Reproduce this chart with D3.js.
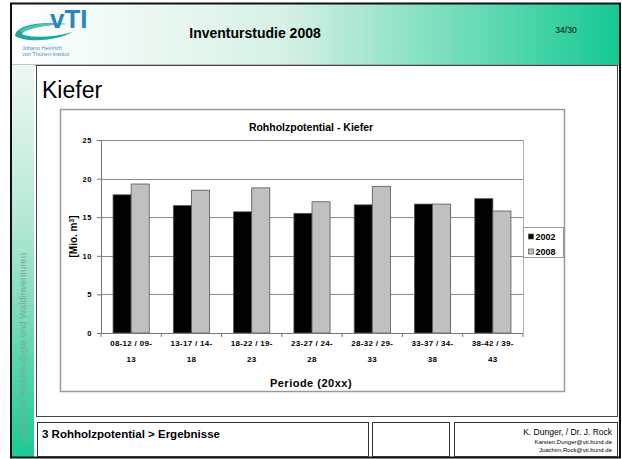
<!DOCTYPE html>
<html>
<head>
<meta charset="utf-8">
<script src="https://cdn.jsdelivr.net/npm/d3@7"></script>
<style>
  body { margin: 0; background: #fff; }
  text { font-family: "Liberation Sans", Arial, sans-serif; }
</style>
</head>
<body>
<div id="slide"></div>
<script>
// chart data
var categories = ["08-12 / 09-13", "13-17 / 14-18", "18-22 / 19-23", "23-27 / 24-28",
                  "28-32 / 29-33", "33-37 / 34-38", "38-42 / 39-43"];
var catLines = [["08-12 / 09-", "13"], ["13-17 / 14-", "18"], ["18-22 / 19-", "23"],
                ["23-27 / 24-", "28"], ["28-32 / 29-", "33"], ["33-37 / 34-", "38"],
                ["38-42 / 39-", "43"]];
var series = ["2002", "2008"];
var values2002 = [17.9, 16.5, 15.7, 15.5, 16.6, 16.7, 17.4];
var values2008 = [19.3, 18.5, 18.8, 17.0, 19.0, 16.7, 15.8];
var yTicks = [0, 5, 10, 15, 20, 25];

// slide settings
var width = 622;
var height = 459;
var bar_colors = {"2002": "#000000", "2008": "#c0c0c0"};
var grid_color = "#8a8a8a";

var svg = d3.select("#slide").append("svg")
    .attr("width", width)
    .attr("height", height);

var defs = svg.append("defs");
var hg = defs.append("linearGradient").attr("id", "headGrad")
    .attr("x1", 0).attr("x2", 1).attr("y1", 0).attr("y2", 0);
hg.append("stop").attr("offset", "0").attr("stop-color", "#ffffff");
hg.append("stop").attr("offset", "0.45").attr("stop-color", "#d6f1e5");
hg.append("stop").attr("offset", "1").attr("stop-color", "#14c994");

var sg = defs.append("linearGradient").attr("id", "sideGrad")
    .attr("x1", 0).attr("x2", 0).attr("y1", 0).attr("y2", 1);
sg.append("stop").attr("offset", "0").attr("stop-color", "#eef8f3");
sg.append("stop").attr("offset", "0.4").attr("stop-color", "#b5e8d3");
sg.append("stop").attr("offset", "1").attr("stop-color", "#1cc995");

// header band
svg.append("rect").attr("x", 11).attr("y", 4).attr("width", 609).attr("height", 61)
    .attr("fill", "url(#headGrad)");
svg.append("line").attr("x1", 11).attr("x2", 620).attr("y1", 65).attr("y2", 65)
    .attr("stroke", "#888").attr("stroke-width", 1);

// left side strip
svg.append("rect").attr("x", 11).attr("y", 65).attr("width", 23).attr("height", 392)
    .attr("fill", "url(#sideGrad)");
svg.append("text")
    .attr("transform", "translate(26,347) rotate(-90)")
    .attr("text-anchor", "middle")
    .attr("font-size", 9.5)
    .attr("fill", "#7fa898")
    .text("Institut für Waldökologie und Waldinventuren");

// outer frame
svg.append("rect").attr("x", 11).attr("y", 3.5).attr("width", 609).attr("height", 454)
    .attr("fill", "none").attr("stroke", "#111").attr("stroke-width", 2);

// logo
var logo = svg.append("g");
logo.append("path")
    .attr("d", "M15,36 C16,25 40,21 68,24 C44,25 24,29 22,34 C30,38 52,38 72,32 C58,41 26,43 15,36 Z")
    .attr("fill", "#1aa996");
logo.append("path")
    .attr("d", "M19,31 C28,24 50,22 64,24 C46,25 32,27 23,32 Z")
    .attr("fill", "#45c7b3");
logo.append("text").attr("x", 50).attr("y", 28)
    .attr("font-size", 26).attr("font-weight", "bold")
    .attr("fill", "#2a86c2").text("vTI");
logo.append("text").attr("x", 22).attr("y", 50)
    .attr("font-size", 5.5).attr("fill", "#4a8fb8").text("Johann Heinrich");
logo.append("text").attr("x", 22).attr("y", 56)
    .attr("font-size", 5.5).attr("fill", "#4a8fb8").text("von Thünen-Institut");

// header texts
svg.append("text").attr("x", 255).attr("y", 38)
    .attr("text-anchor", "middle")
    .attr("font-size", 14).attr("font-weight", "bold")
    .text("Inventurstudie 2008");
svg.append("text").attr("x", 566).attr("y", 33)
    .attr("text-anchor", "middle")
    .attr("font-size", 8.5)
    .text("34/30");

// content box
svg.append("rect").attr("x", 36.5).attr("y", 65.5).attr("width", 581).attr("height", 351)
    .attr("fill", "#fff").attr("stroke", "#444").attr("stroke-width", 1);
svg.append("text").attr("x", 42).attr("y", 98)
    .attr("font-size", 23).text("Kiefer");

// footer boxes
var footBoxes = [[37, 331], [372, 77], [454, 163]];
footBoxes.forEach(function(b) {
    svg.append("rect").attr("x", b[0] + 0.5).attr("y", 422.5)
        .attr("width", b[1]).attr("height", 34)
        .attr("fill", "#fff").attr("stroke", "#333").attr("stroke-width", 1);
});
svg.append("text").attr("x", 42).attr("y", 438)
    .attr("font-size", 11.5).attr("font-weight", "bold")
    .text("3 Rohholzpotential > Ergebnisse");
svg.append("text").attr("x", 612).attr("y", 435).attr("text-anchor", "end")
    .attr("font-size", 8.5).text("K. Dunger, / Dr. J. Rock");
svg.append("text").attr("x", 612).attr("y", 444).attr("text-anchor", "end")
    .attr("font-size", 6).text("Karsten.Dunger@vti.bund.de");
svg.append("text").attr("x", 612).attr("y", 452).attr("text-anchor", "end")
    .attr("font-size", 6).text("Joachim.Rock@vti.bund.de");

// chart area
svg.append("rect").attr("x", 60.5).attr("y", 109.5).attr("width", 504).attr("height", 282)
    .attr("fill", "#fff").attr("stroke", "#9a9a9a").attr("stroke-width", 1.5);

svg.append("text").attr("x", 311).attr("y", 131)
    .attr("text-anchor", "middle")
    .attr("font-size", 10.5).attr("font-weight", "bold")
    .text("Rohholzpotential - Kiefer");

var plot = {left: 101, right: 523, top: 140, bottom: 333};

var y = d3.scaleLinear().domain([0, 25]).range([plot.bottom, plot.top]);
var x0 = d3.scaleBand().domain(categories).range([plot.left, plot.right])
    .paddingInner(0.4).paddingOuter(0.2);
var x1 = d3.scaleBand().domain(series).range([0, x0.bandwidth()]);

// gridlines
svg.append("g").selectAll("line")
    .data(yTicks.slice(1))
    .enter().append("line")
    .attr("x1", plot.left).attr("x2", plot.right)
    .attr("y1", function(d) { return Math.round(y(d)) + 0.5; })
    .attr("y2", function(d) { return Math.round(y(d)) + 0.5; })
    .attr("stroke", grid_color).attr("stroke-width", 1);
svg.append("line").attr("x1", plot.right + 0.5).attr("x2", plot.right + 0.5)
    .attr("y1", plot.top).attr("y2", plot.bottom)
    .attr("stroke", "#b0b0b0");

// bars
var rows = categories.map(function(c, i) {
    return {cat: c, vals: [{s: "2002", v: values2002[i]}, {s: "2008", v: values2008[i]}]};
});
svg.append("g").selectAll("g")
    .data(rows)
    .enter().append("g")
    .attr("transform", function(d) { return "translate(" + x0(d.cat) + ",0)"; })
    .selectAll("rect")
    .data(function(d) { return d.vals; })
    .enter().append("rect")
    .attr("x", function(d) { return x1(d.s); })
    .attr("y", function(d) { return y(d.v); })
    .attr("width", x1.bandwidth())
    .attr("height", function(d) { return y(0) - y(d.v); })
    .attr("fill", function(d) { return bar_colors[d.s]; })
    .attr("stroke", "#555").attr("stroke-width", 0.8);

// y axis
var yAxis = svg.append("g")
    .attr("transform", "translate(" + plot.left + ",0)")
    .call(d3.axisLeft(y).tickValues(yTicks).tickSize(4).tickPadding(5));
yAxis.select(".domain").attr("stroke", "#777");
yAxis.selectAll(".tick line").attr("stroke", "#777");
yAxis.selectAll("text").attr("font-size", 7.5).attr("font-weight", "bold")
    .attr("letter-spacing", 0.6)
    .attr("font-family", "Liberation Sans, Arial, sans-serif").attr("fill", "#000");

// x axis
svg.append("line").attr("x1", plot.left).attr("x2", plot.right)
    .attr("y1", plot.bottom + 0.5).attr("y2", plot.bottom + 0.5)
    .attr("stroke", "#777");
var step = x0.step();
svg.append("g").selectAll("line")
    .data(d3.range(categories.length + 1))
    .enter().append("line")
    .attr("x1", function(i) { return plot.left + i * step; })
    .attr("x2", function(i) { return plot.left + i * step; })
    .attr("y1", plot.bottom).attr("y2", plot.bottom + 4)
    .attr("stroke", "#777");

var xl = svg.append("g").selectAll("text")
    .data(categories)
    .enter().append("text")
    .attr("text-anchor", "middle")
    .attr("font-size", 8).attr("font-weight", "bold")
    .attr("letter-spacing", 0.3).attr("fill", "#000");
xl.each(function(c, i) {
    var t = d3.select(this);
    var cx = x0(c) + x0.bandwidth() / 2;
    catLines[i].forEach(function(line, j) {
        t.append("tspan").attr("x", cx).attr("y", 346 + j * 16).text(line);
    });
});

// axis titles
svg.append("text").attr("x", 311).attr("y", 387)
    .attr("text-anchor", "middle")
    .attr("font-size", 11).attr("font-weight", "bold")
    .attr("letter-spacing", 0.5)
    .text("Periode (20xx)");
var ylab = svg.append("text")
    .attr("transform", "translate(77," + ((plot.top + plot.bottom) / 2) + ") rotate(-90)")
    .attr("text-anchor", "middle")
    .attr("font-size", 10).attr("font-weight", "bold");
ylab.append("tspan").text("[Mio. m");
ylab.append("tspan").attr("font-size", 6.5).attr("dy", -3.5).text("3");
ylab.append("tspan").attr("dy", 3.5).text("]");

// legend
var legend = svg.append("g").attr("transform", "translate(523.5,227.5)");
legend.append("rect").attr("width", 40).attr("height", 30)
    .attr("fill", "#fff").attr("stroke", "#999");
series.forEach(function(s, i) {
    legend.append("rect").attr("x", 5).attr("y", 6.5 + i * 15)
        .attr("width", 5).attr("height", 5)
        .attr("fill", bar_colors[s]).attr("stroke", "#555").attr("stroke-width", 0.7);
    legend.append("text").attr("x", 12).attr("y", 12 + i * 15)
        .attr("font-size", 9).attr("font-weight", "bold").attr("fill", "#000")
        .text(s);
});
</script>
</body>
</html>
